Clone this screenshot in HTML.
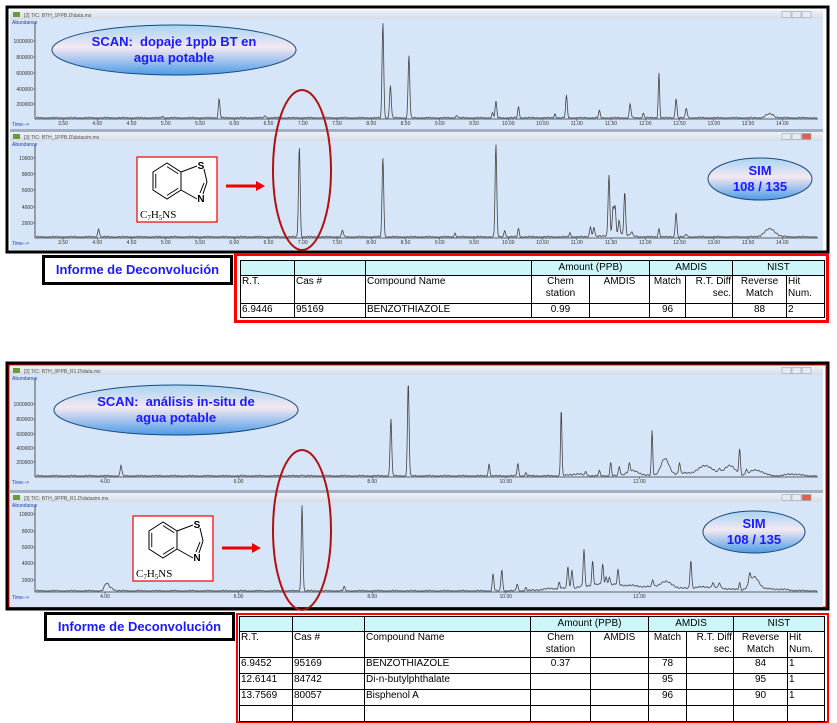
<!DOCTYPE html>
<html><head><meta charset="utf-8">
<style>
body{margin:0;width:837px;height:713px;background:#fff;position:relative;overflow:hidden;font-family:"Liberation Sans",sans-serif}
svg{position:absolute;left:0;top:0}
.lbl{position:absolute;border:3px solid #000;background:#fff;color:#1a1aff;font-weight:bold;font-size:13px;text-align:center;box-sizing:border-box}
.red{position:absolute;border:3px solid #f00;box-sizing:border-box;background:#fff}
table{position:absolute;border-collapse:collapse;table-layout:fixed;font-size:10px;color:#000}
td{border:1px solid #000;padding:0 1px;vertical-align:top;line-height:12px;overflow:hidden;white-space:nowrap}
tr.h1 td{background:#ccf6fa;text-align:center;vertical-align:middle}
.c{text-align:center}
</style></head><body>
<svg id="s" width="837" height="713" viewBox="0 0 837 713">
<defs>
<linearGradient id="eg" x1="0" y1="0" x2="0" y2="1">
<stop offset="0" stop-color="#a8d4f2"/><stop offset="0.45" stop-color="#f4e8f2"/><stop offset="1" stop-color="#4a9ae8"/></linearGradient>
<linearGradient id="hg" x1="0" y1="0" x2="0" y2="1"><stop offset="0" stop-color="#eef2f7"/><stop offset="1" stop-color="#d3dce7"/></linearGradient>
</defs>
<g id="g"></g>
</svg>

<div class="lbl" style="left:42px;top:255px;width:191px;height:30px;line-height:24px">Informe de Deconvolución</div>
<div class="red" style="left:234px;top:253px;width:595px;height:70px"></div>
<table style="left:240px;top:260px;width:584px">
<colgroup><col style="width:54px"><col style="width:71px"><col style="width:166px"><col style="width:58px"><col style="width:60px"><col style="width:36px"><col style="width:47px"><col style="width:54px"><col style="width:38px"></colgroup>
<tr class="h1" style="height:15px"><td></td><td></td><td></td><td colspan="2">Amount (PPB)</td><td colspan="2">AMDIS</td><td colspan="2">NIST</td></tr>
<tr style="height:28px"><td>R.T.</td><td>Cas #</td><td>Compound Name</td><td class="c">Chem<br>station</td><td class="c">AMDIS</td><td class="c">Match</td><td style="text-align:right">R.T. Diff<br>sec.</td><td class="c">Reverse<br>Match</td><td>Hit<br>Num.</td></tr>
<tr style="height:14px"><td>6.9446</td><td>95169</td><td>BENZOTHIAZOLE</td><td class="c">0.99</td><td></td><td class="c">96</td><td></td><td class="c">88</td><td>2</td></tr>
</table>

<div class="lbl" style="left:44px;top:612px;width:191px;height:29px;line-height:23px">Informe de Deconvolución</div>
<div class="red" style="left:236px;top:613px;width:593px;height:110px;border-width:2px"></div>
<table style="left:239px;top:616px;width:585px">
<colgroup><col style="width:53px"><col style="width:72px"><col style="width:166px"><col style="width:60px"><col style="width:58px"><col style="width:38px"><col style="width:47px"><col style="width:54px"><col style="width:37px"></colgroup>
<tr class="h1" style="height:15px"><td></td><td></td><td></td><td colspan="2">Amount (PPB)</td><td colspan="2">AMDIS</td><td colspan="2">NIST</td></tr>
<tr style="height:26px"><td>R.T.</td><td>Cas #</td><td>Compound Name</td><td class="c">Chem<br>station</td><td class="c">AMDIS</td><td class="c">Match</td><td style="text-align:right">R.T. Diff<br>sec.</td><td class="c">Reverse<br>Match</td><td>Hit<br>Num.</td></tr>
<tr style="height:16px"><td>6.9452</td><td>95169</td><td>BENZOTHIAZOLE</td><td class="c">0.37</td><td></td><td class="c">78</td><td></td><td class="c">84</td><td>1</td></tr>
<tr style="height:16px"><td>12.6141</td><td>84742</td><td>Di-n-butylphthalate</td><td></td><td></td><td class="c">95</td><td></td><td class="c">95</td><td>1</td></tr>
<tr style="height:16px"><td>13.7569</td><td>80057</td><td>Bisphenol A</td><td></td><td></td><td class="c">96</td><td></td><td class="c">90</td><td>1</td></tr>
<tr style="height:16px"><td></td><td></td><td></td><td></td><td></td><td></td><td></td><td></td><td></td></tr>
</table>

<script>
var g=document.getElementById('g');var h='';
function R(x,y,w,ht,f,s,sw){h+='<rect x="'+x+'" y="'+y+'" width="'+w+'" height="'+ht+'" fill="'+f+'"'+(s?' stroke="'+s+'" stroke-width="'+(sw||1)+'"':'')+'/>';}
function T(x,y,t,sz,c,a,extra){h+='<text x="'+x+'" y="'+y+'" font-size="'+sz+'" fill="'+c+'" text-anchor="'+(a||'start')+'" font-family="Liberation Sans, sans-serif" '+(extra||'')+'>'+t+'</text>';}
function panel(y0,y1,title,ylabels,base,xmap,xt,peaks,humps,red){
 R(10,y0,813,y1-y0,'#d6e5f8');R(10,y0,813,9,'url(#hg)');
 T(24,y0+7,title,5,'#555');h+='<rect x="13" y="'+(y0+2)+'" width="7" height="5" fill="#6a9a3a"/>';
 [790,800,810].forEach(function(x,i){R(x-8,y0+1.5,9,6,i==2&&red?'#e06050':'#e6ebf1','#9aa6b4',0.6);});
 T(12,y0+14,'Abundance',5,'#2040c0');
 h+='<line x1="35" y1="'+(y0+12)+'" x2="35" y2="'+base+'" stroke="#333" stroke-width="0.8"/>';
 h+='<line x1="35" y1="'+base+'" x2="818" y2="'+base+'" stroke="#333" stroke-width="0.8"/>';
 ylabels.forEach(function(l){T(33,l[1]+2,l[0],5,'#333','end');h+='<line x1="33" y1="'+l[1]+'" x2="35" y2="'+l[1]+'" stroke="#333" stroke-width="0.5"/>';});
 T(12,base+7,'Time--&gt;',5,'#2040c0');
 xt.forEach(function(t){var x=xmap(t);T(x,base+6,t.toFixed(2),5,'#333','middle');h+='<line x1="'+x+'" y1="'+base+'" x2="'+x+'" y2="'+(base+2)+'" stroke="#333" stroke-width="0.5"/>';});
 var d='';for(var x=36;x<=817;x+=0.5){var t=xmap.inv(x);var v=0.6*Math.sin(x*1.7)+0.4*Math.sin(x*0.37);
  peaks.forEach(function(p){var w=p[2]||0.012;v+=p[1]*Math.exp(-Math.pow((t-p[0])/w,2)/2);});
  humps.forEach(function(p){v+=p[1]*Math.exp(-Math.pow((t-p[0])/p[2],2)/2);});
  d+=(d?'L':'M')+x+','+(base-1-Math.max(0,v)).toFixed(1);}
 h+='<path d="'+d+'" fill="none" stroke="#444" stroke-width="0.8"/>';
}
function mk(a,b,x0){var f=function(t){return a+(t-b)*x0;};f.inv=function(x){return (x-a)/x0+b;};return f;}
var xa=mk(63,3.5,68.5),xb=mk(105,4,66.8);
var tA=[3.5,4,4.5,5,5.5,6,6.5,7,7.5,8,8.5,9,9.5,10,10.5,11,11.5,12,12.5,13,13.5,14];
// top frame
R(7,7,821,245,'#fff','#000',3);
panel(10,129,'[2] TIC: BTH_1PPB.D\\data.ms',[['1000000',41],['800000',57],['600000',73],['400000',89],['200000',104]],119,xa,tA,
[[5.78,19],[4.95,2],[6.45,3],[8.17,96],[8.28,33],[8.55,63],[9.25,3],[9.77,5],[9.82,16],[10.15,11],[10.68,4],[10.85,22],[11.33,7],[11.78,14],[11.97,5],[12.2,45,0.01],[12.45,20],[12.6,10]],[[13.82,4,0.06]]);
R(10,129,813,3,'#9fb0c4');
panel(132,250,'[3] TIC: BTH_1PPB.D\\datasim.ms',[['10000',158],['8000',174],['6000',190],['4000',207],['2000',223]],238,xa,tA,
[[4.02,9],[6.95,91],[7.58,7],[8.17,80],[9.22,4],[9.82,92],[9.95,7],[10.15,8],[10.9,4],[11.2,11],[11.25,10],[11.47,61],[11.53,27],[11.56,27],[11.62,14],[11.7,43],[11.8,4],[12.2,8],[12.45,25],[12.6,3]],[[11.6,3,0.15],[13.82,8,0.08]],true);
// bottom frame
R(7,363,821,246,'#fff','#000',3);
h+='<rect x="9" y="365" width="817" height="242" fill="none" stroke="#e00" stroke-width="1"/>';
var tB=[4,6,8,10,12];
panel(366,490,'[2] TIC: BTH_0PPB_R1.D\\data.ms',[['1000000',404],['800000',419],['600000',434],['400000',448],['200000',462]],477,xb,tB,
[[4.24,11],[6.95,2],[8.28,58],[8.54,94],[9.75,12],[10.18,12],[10.3,3],[10.83,68,0.01],[11.2,4],[11.4,5],[11.57,13],[11.7,9],[11.85,8],[12.19,45,0.01],[12.6,11],[13.5,25],[13.6,5],[13.2,4]],[[11.05,2,0.1],[12.38,16,0.06],[13.0,8,0.1],[13.35,10,0.08],[11.9,5,0.1],[13.75,6,0.1],[12.8,3,0.3],[14.3,2,0.1]]);
R(10,490,813,3,'#9fb0c4');
panel(493,607,'[3] TIC: BTH_0PPB_R1.D\\datasim.ms',[['10000',514],['8000',531],['6000',547],['4000',563],['2000',580]],592,xb,tB,
[[4.02,6,0.03],[6.95,87],[7.58,4],[9.81,17],[9.94,22],[10.17,7],[10.3,3],[10.8,6],[10.93,22],[10.99,19],[11.17,37],[11.3,24],[11.45,20],[11.5,8],[11.55,8],[11.68,15],[12.2,7],[12.77,28],[13.1,5],[13.2,5],[13.5,7],[13.65,10]],[[4.08,3,0.05],[10.7,2,0.2],[11.4,6,0.3],[12.0,4,0.3],[12.4,7,0.1],[13.72,13,0.07],[13.0,4,0.3],[14.0,2,0.2]],true);
// ellipses
function E(cx,cy,rx,ry,l1,l2,sz){h+='<ellipse cx="'+cx+'" cy="'+cy+'" rx="'+rx+'" ry="'+ry+'" fill="url(#eg)" stroke="#1a4a7a" stroke-width="1"/>';
 T(cx,cy-4,l1,sz,'#1a1aff','middle','font-weight="bold"');T(cx,cy+12,l2,sz,'#1a1aff','middle','font-weight="bold"');}
E(174,50,122,25,'SCAN:&#160; dopaje 1ppb BT en','agua potable',13);
E(176,410,122,25,'SCAN:&#160; análisis in-situ de','agua potable',13);
E(760,179,52,21,'SIM','108 / 135',13);
E(754,532,51,21,'SIM','108 / 135',13);
// molecules
function mol(bx,by){R(bx,by,80,65,'#fff','#e00',1.2);
 var cx=bx+30,cy=by+24,r=18,p=[];for(var i=0;i<6;i++){var a=Math.PI/2+i*Math.PI/3;p.push([cx+r*Math.cos(a)*0.9,cy-r*Math.sin(a)]);}
 var s='';p.forEach(function(q,i){s+=(i?'L':'M')+q[0].toFixed(1)+','+q[1].toFixed(1);});
 h+='<path d="'+s+'Z" fill="none" stroke="#000" stroke-width="1"/>';
 // p: 0 top,1 upper-left,2 lower-left,3 bottom,4 lower-right,5 upper-right
 var ui=[[1,2],[3,4],[5,0]];ui.forEach(function(e){var a=p[e[0]],b=p[e[1]];var ax=a[0]+(cx-a[0])*0.2,ay=a[1]+(cy-a[1])*0.2,bx2=b[0]+(cx-b[0])*0.2,by2=b[1]+(cy-b[1])*0.2;
  h+='<line x1="'+ax+'" y1="'+ay+'" x2="'+bx2+'" y2="'+by2+'" stroke="#000" stroke-width="0.9"/>';});
 var ur=p[5],lr=p[4];var S=[cx+34,cy-16],C=[cx+40,cy+1],N=[cx+34,cy+17];
 h+='<line x1="'+ur[0]+'" y1="'+ur[1]+'" x2="'+(S[0]-4)+'" y2="'+(S[1]+1)+'" stroke="#000"/>';
 h+='<line x1="'+(S[0]+3)+'" y1="'+(S[1]+4)+'" x2="'+C[0]+'" y2="'+C[1]+'" stroke="#000"/>';
 h+='<line x1="'+C[0]+'" y1="'+C[1]+'" x2="'+(N[0]+2)+'" y2="'+(N[1]-4)+'" stroke="#000"/>';
 h+='<line x1="'+(C[0]-3)+'" y1="'+(C[1]+1)+'" x2="'+(N[0]-1)+'" y2="'+(N[1]-5)+'" stroke="#000"/>';
 h+='<line x1="'+lr[0]+'" y1="'+lr[1]+'" x2="'+(N[0]-4)+'" y2="'+(N[1]+1)+'" stroke="#000"/>';
 T(S[0],S[1]+4,'S',10,'#000','middle','font-weight="bold"');T(N[0],N[1]+4,'N',10,'#000','middle','font-weight="bold"');
 h+='<text x="'+(bx+3)+'" y="'+(by+61)+'" font-size="11" font-family="Liberation Serif, serif">C<tspan font-size="7" dy="2">7</tspan><tspan dy="-2">H</tspan><tspan font-size="7" dy="2">5</tspan><tspan dy="-2">NS</tspan></text>';}
mol(137,157);mol(133,516);
function arr(x1,x2,y){h+='<line x1="'+x1+'" y1="'+y+'" x2="'+(x2-8)+'" y2="'+y+'" stroke="#e00" stroke-width="3"/><path d="M'+(x2-9)+','+(y-5)+'L'+x2+','+y+'L'+(x2-9)+','+(y+5)+'Z" fill="#e00"/>';}
arr(226,265,186);arr(222,261,548);
h+='<ellipse cx="302" cy="170" rx="29" ry="80" fill="none" stroke="#b01010" stroke-width="2"/>';
h+='<ellipse cx="302" cy="530" rx="29" ry="80" fill="none" stroke="#b01010" stroke-width="2"/>';
g.innerHTML=h;
</script>
</body></html>
